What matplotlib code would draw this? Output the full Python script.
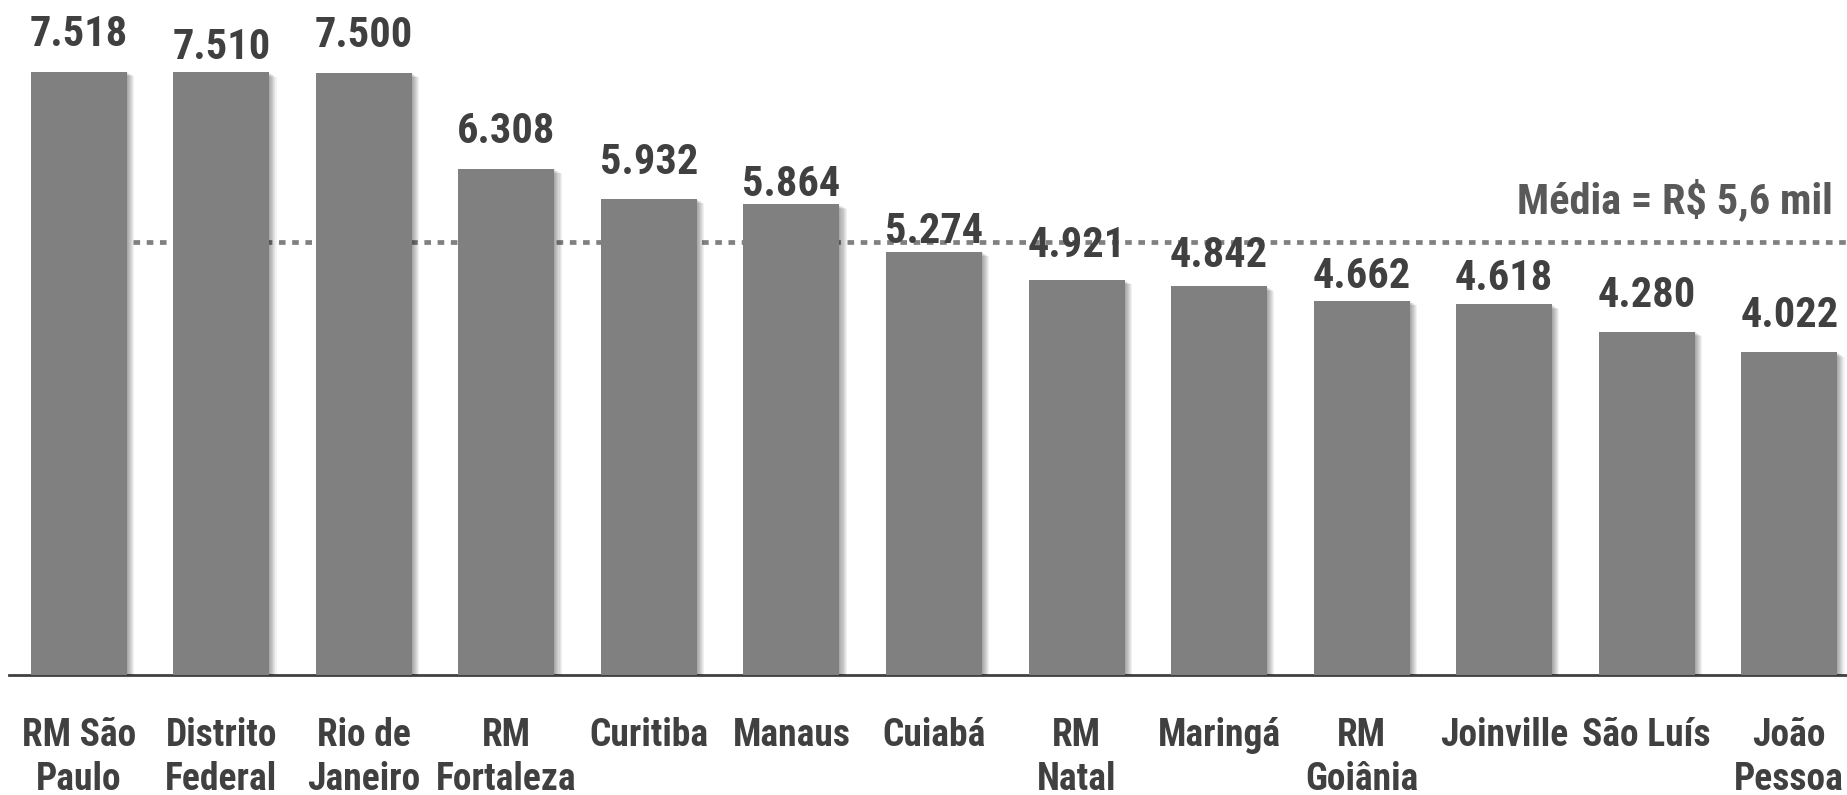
import matplotlib
matplotlib.use("Agg")
import matplotlib.pyplot as plt
import matplotlib.patheffects as pe

# rendimento médio por região (R$)
cidades = ["RM São\nPaulo", "Distrito\nFederal", "Rio de\nJaneiro", "RM\nFortaleza",
           "Curitiba", "Manaus", "Cuiabá", "RM\nNatal", "Maringá", "RM\nGoiânia",
           "Joinville", "São Luís", "João\nPessoa"]
valores = [7518, 7510, 7500, 6308, 5932, 5864, 5274, 4921, 4842, 4662, 4618, 4280, 4022]
rotulos = ["7.518", "7.510", "7.500", "6.308", "5.932", "5.864", "5.274",
           "4.921", "4.842", "4.662", "4.618", "4.280", "4.022"]
media = 5400
texto_media = "Média = R$ 5,6 mil"

# distância (px) entre a base do rótulo e o topo da barra, como no original
folga_rotulo = [26, 13, 26, 26, 25, 8, 9, 23, 19, 13, 14, 25, 25]

plt.rcParams['font.family'] = ['Roboto Condensed', 'DejaVu Sans']
plt.rcParams['font.weight'] = 'bold'

fig = plt.figure(figsize=(18.47, 7.95), dpi=100)
ax = fig.add_axes([9 / 1847, 120 / 795, 1 - 9 / 1847, 675 / 795])

x = list(range(len(valores)))
sombra = [pe.SimplePatchShadow(offset=(k * 0.75, -k * 0.45), alpha=0.055, shadow_rgbFace="black")
          for k in range(1, 8)]
ax.bar(x, valores, width=0.673, color="#808080", zorder=3,
       path_effects=sombra + [pe.Normal()])

ax.plot([0.38, 12.45], [media, media], linestyle=(0, (1.4, 1.4)), color="#808080",
        linewidth=3.4, zorder=2, dash_capstyle="butt")
ax.text(0.9924, media + 360, texto_media, transform=ax.get_yaxis_transform(),
        ha="right", va="baseline", fontsize=30.5, color="#595959", fontweight="bold")

for xi, v, r, f in zip(x, valores, rotulos, folga_rotulo):
    ax.annotate(r, (xi, v), xytext=(0, f * 0.72), textcoords="offset points",
                ha="center", va="baseline", fontsize=30.5, color="#404040",
                fontweight="bold", annotation_clip=False, zorder=5)

ax.set_xlim(-0.489, 12.405)
ax.set_ylim(0, 8411)
ax.set_xticks(x)
ax.set_xticklabels(cidades, fontsize=27, color="#404040", fontweight="bold",
                   linespacing=1.25)
ax.tick_params(axis="x", length=0, pad=30)
ax.set_yticks([])
for s in ["top", "right", "left"]:
    ax.spines[s].set_visible(False)
ax.spines["bottom"].set_color("#404040")
ax.spines["bottom"].set_linewidth(2)

fig.savefig("out.png", dpi=100)
